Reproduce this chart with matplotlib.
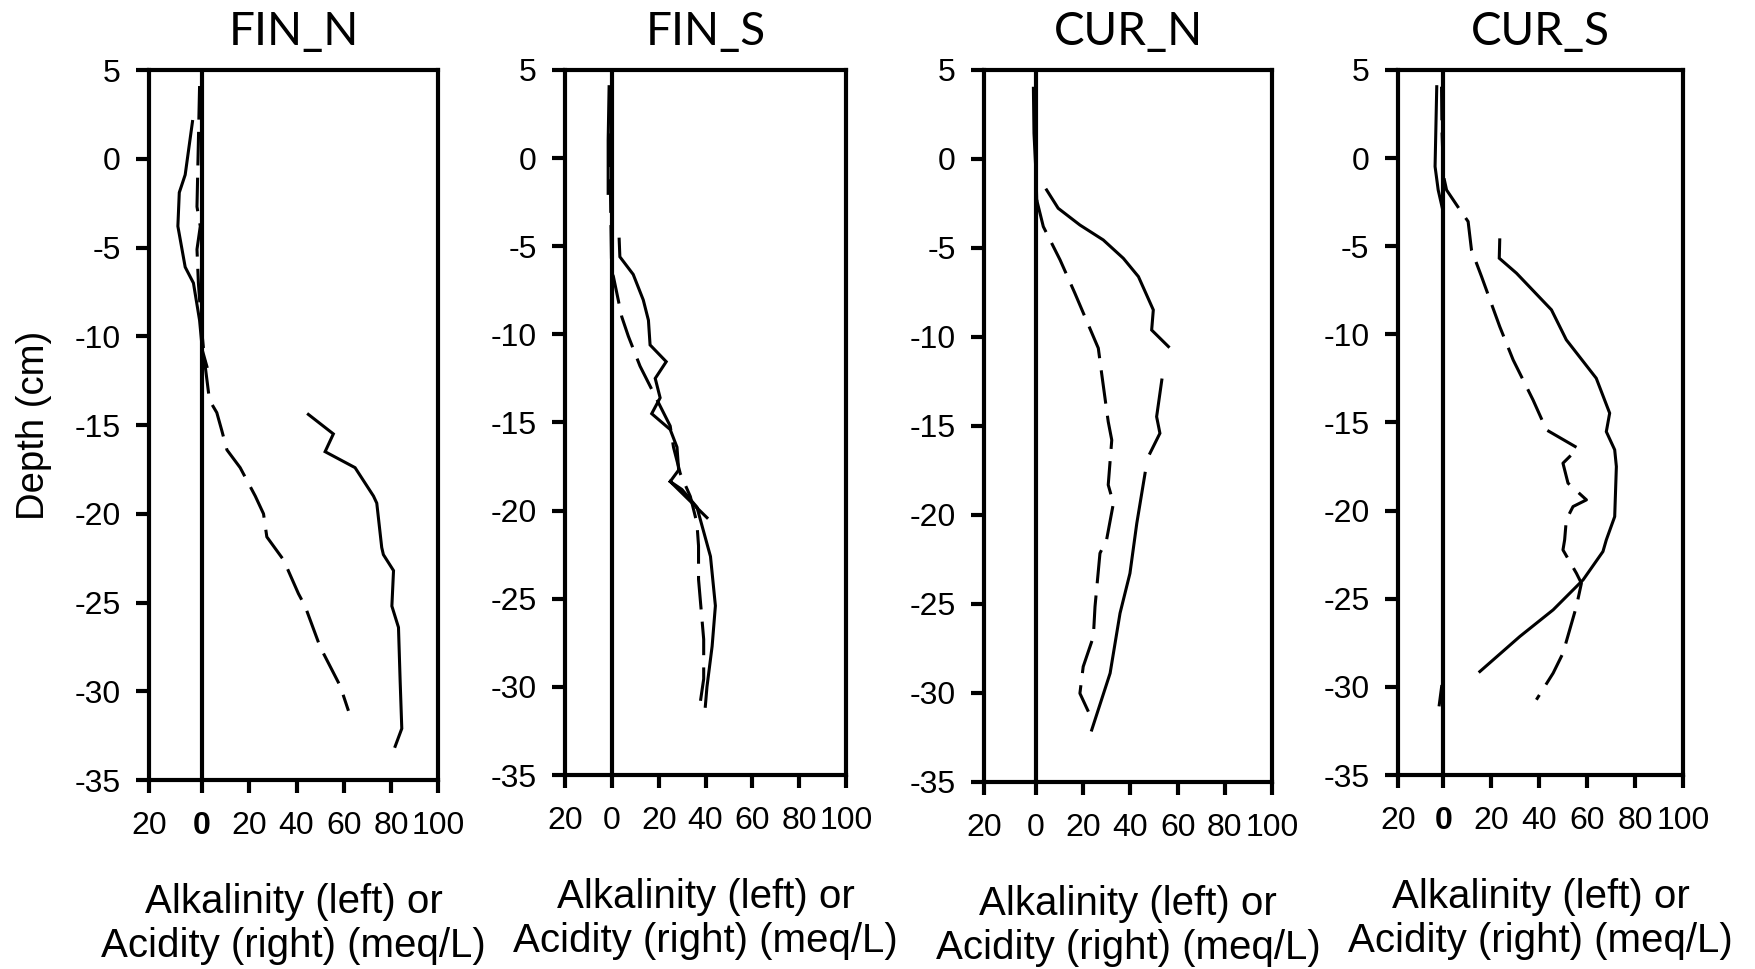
import numpy as np
import matplotlib
matplotlib.use("Agg")
import matplotlib.pyplot as plt

plt.rcParams["axes.unicode_minus"] = False
plt.rcParams["font.family"] = ["Liberation Sans", "DejaVu Sans"]

nan = np.nan

# Panel titles
titles = ["FIN_N", "FIN_S", "CUR_N", "CUR_S"]

# Profiles: negative values = alkalinity (left), positive = acidity (right)
# FIN_N
fin_n_solid_val = [-4.1, -7.2, -9.7, -10.3, -7.2, -3.7, -1.1, 0.1, 2.0, nan,
                   45.0, 55.6, 52.1, 64.8, 72.6, 74.0, 76.1, 76.8, 81.1, 80.4,
                   83.2, 83.9, 84.6, 81.8]
fin_n_solid_depth = [2.1, -0.9, -1.9, -3.8, -6.1, -7.0, -9.1, -10.8, -11.7, nan,
                     -14.4, -15.5, -16.5, -17.4, -19.0, -19.4, -21.9, -22.3, -23.2, -25.2,
                     -26.4, -29.4, -32.1, -33.1]
fin_n_dash_val = [-1.1, -1.6, -2.2, -0.8, -2.2, -1.6, -0.1, 1.3, 3.1, 6.2, 8.3,
                  10.5, 16.1, 22.5, 26.0, 27.4, 34.5, 40.8, 43.6, 50.0, 58.5, 62.0]
fin_n_dash_depth = [4.1, 1.0, -2.7, -3.8, -5.1, -7.0, -9.8, -11.7, -13.6, -14.3, -15.3,
                    -16.4, -17.4, -19.0, -20.0, -21.3, -22.6, -24.5, -25.2, -27.5, -29.7, -31.1]

# FIN_S
fin_s_solid_val = [-1.2, -1.6, -1.6, nan,
                   3.1, 3.4, 9.1, 13.4, 15.6, 16.3, 23.2, 18.5, 20.6, 17.0, 24.9, 27.8,
                   28.5, 24.9, 40.6, nan,
                   24.9, 29.9, 36.3, 42.1, 44.2, 42.8, 40.6, 39.9]
fin_s_solid_depth = [4.05, 1.0, -2.0, nan,
                     -4.6, -5.6, -6.6, -8.05, -9.2, -10.6, -11.55, -12.5, -13.6, -14.5, -15.4, -16.4,
                     -17.7, -18.35, -20.4, nan,
                     -18.35, -18.8, -19.8, -22.6, -25.4, -27.7, -30.0, -31.1]
fin_s_dash_val = [-0.6, -0.8, -0.5, -0.1, 0.6, 4.2, 7.0, 12.0, 17.7, 24.9, 26.3, 29.2,
                  33.5, 36.3, 37.0, 37.0, 39.2, 39.2, 37.5]
fin_s_dash_depth = [4.0, 0.0, -3.0, -6.5, -6.7, -9.0, -10.1, -11.8, -13.3, -15.2, -16.4, -17.9,
                    -19.2, -20.7, -22.0, -23.9, -27.3, -29.55, -31.1]

# CUR_N
cur_n_solid_val = [-1.1, -0.85, 0.0, 0.3, nan,
                   4.5, 9.4, 18.6, 28.5, 37.0, 43.4, 49.7, 49.0, 56.1, nan,
                   53.3, 51.1, 52.5, 48.3, nan,
                   46.2, 42.7, 39.8, 35.6, 31.4, 23.6]
cur_n_solid_depth = [3.97, 1.44, -0.8, -2.3, nan,
                     -1.74, -2.77, -3.71, -4.55, -5.58, -6.61, -8.48, -9.61, -10.54, nan,
                     -12.42, -14.48, -15.41, -16.53, nan,
                     -17.66, -20.47, -23.28, -25.52, -28.89, -32.08]
cur_n_dash_val = [0.3, 3.1, 10.2, 16.5, 26.4, 27.8, 30.6, 32.1, 30.6, 32.8, 29.9,
                  27.1, 25.0, 24.3, 20.0, 18.6, 22.2]
cur_n_dash_depth = [-2.3, -3.8, -5.67, -7.55, -10.63, -12.04, -14.76, -15.79, -18.31,
                    -19.34, -21.4, -22.15, -25.15, -26.84, -28.52, -30.02, -31.05]

# CUR_S
cur_s_solid_val = [-2.8, -3.5, -2.2, -0.3, nan,
                   23.5, 23.3, 30.5, 45.1, 51.3, 63.8, 69.4, 68.0, 71.5, 72.2, 71.5,
                   68.0, 66.6, 58.3, 45.8, 31.9, 15.2, nan,
                   -0.75, -1.75]
cur_s_solid_depth = [4.05, -0.48, -1.81, -2.94, nan,
                     -4.64, -5.68, -6.53, -8.61, -10.31, -12.49, -14.47, -15.52, -16.55, -17.5, -20.34,
                     -21.66, -22.32, -23.93, -25.63, -27.14, -29.13, nan,
                     -29.98, -31.02]
cur_s_dash_val = [-0.8, -0.6, 0.0, 1.3, 6.9, 10.3, 11.7, 15.9, 23.5, 29.1, 37.4, 43.0,
                  56.2, 49.9, 52.0, 59.7, 54.1, 51.3, 50.6, 49.9, 55.5, 57.6, 55.5,
                  49.9, 45.8, 38.8]
cur_s_dash_depth = [4.05, 1.5, -1.0, -1.81, -2.94, -3.6, -5.21, -6.72, -9.56, -11.45, -13.72, -15.42,
                    -16.46, -17.31, -18.44, -19.39, -19.77, -20.52, -21.66, -22.23, -23.55, -24.12, -25.44,
                    -28.09, -29.22, -30.73]

solid_vals = [fin_n_solid_val, fin_s_solid_val, cur_n_solid_val, cur_s_solid_val]
solid_depths = [fin_n_solid_depth, fin_s_solid_depth, cur_n_solid_depth, cur_s_solid_depth]
dash_vals = [fin_n_dash_val, fin_s_dash_val, cur_n_dash_val, cur_s_dash_val]
dash_depths = [fin_n_dash_depth, fin_s_dash_depth, cur_n_dash_depth, cur_s_dash_depth]

# Axis ranges and ticks
x_left = [-22.5, -20.0, -22.0, -19.0]
x_major = [0, 20, 40, 60, 80, 100]
x_labels = ["20", "0", "20", "40", "60", "80", "100"]
bold_zero = [True, False, False, True]
y_ticks = [5, 0, -5, -10, -15, -20, -25, -30, -35]
y_labels = ["5", "0", "-5", "-10", "-15", "-20", "-25", "-30", "-35"]
x_title = "Alkalinity (left) or\nAcidity (right) (meq/L)"
y_title = "Depth (cm)"

fig = plt.figure(figsize=(17.56, 9.69), dpi=100)
fig.patch.set_facecolor("white")

positions = [
    [0.0849, 0.1950, 0.1646, 0.7327],
    [0.3218, 0.2002, 0.1600, 0.7276],
    [0.5604, 0.1930, 0.1640, 0.7348],
    [0.7961, 0.2002, 0.1623, 0.7276],
]

LW_AX = 3.0
LW_DATA = 2.2

for i in range(4):
    ax = fig.add_axes(positions[i])
    ax.plot(solid_vals[i], solid_depths[i], color="black", lw=LW_DATA,
            solid_joinstyle="miter")
    ax.plot(dash_vals[i], dash_depths[i], color="black", lw=LW_DATA,
            dashes=(11, 4))
    ax.axvline(0, color="black", lw=LW_AX)

    ax.set_xlim(x_left[i], 100)
    ax.set_ylim(-35, 5)
    ax.set_xticks([x_left[i]] + x_major)
    ax.set_xticklabels(x_labels)
    ax.set_yticks(y_ticks)
    ax.set_yticklabels(y_labels)
    for s in ax.spines.values():
        s.set_linewidth(LW_AX)
    ax.tick_params(direction="out", length=9.5, width=LW_AX, labelsize=23,
                   colors="black")
    ax.tick_params(axis="x", pad=13)
    ax.tick_params(axis="y", pad=11)
    if bold_zero[i]:
        ax.get_xticklabels()[1].set_fontweight("bold")

    ax.set_title(titles[i], fontsize=33, family=["Lato", "DejaVu Sans"], pad=18)
    ax.set_xlabel(x_title, fontsize=29, linespacing=1.2, labelpad=30)
    if i == 0:
        ax.set_ylabel(y_title, fontsize=27.5, labelpad=16)

fig.savefig("out.png", dpi=100, facecolor="white")
